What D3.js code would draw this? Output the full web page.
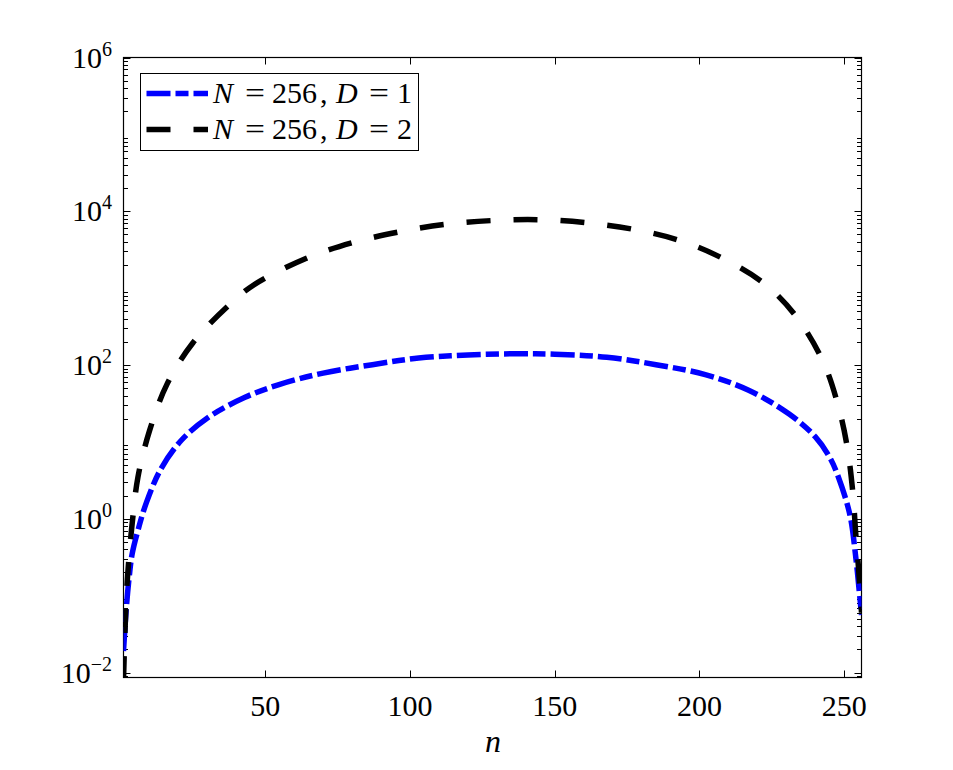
<!DOCTYPE html>
<html>
<head>
<meta charset="utf-8">
<script src="https://cdn.jsdelivr.net/npm/d3@7"></script>
<style>
  html, body { margin: 0; padding: 0; background: #fff; }
  svg { display: block; }
</style>
</head>
<body>
<svg id="chart" width="953" height="770"></svg>
<script>
// ---- data ----
const nBlue = [1, 2, 3, 4, 6, 9, 14, 21, 30, 43, 55, 70, 87, 103, 120, 137, 150, 168, 185, 202, 217, 231, 240, 245, 248, 252, 254, 255, 256];
const valBlue = [0.019, 0.071, 0.18, 0.35, 0.71, 1.66, 4.5, 10.5, 20.5, 38, 56, 78.5, 101, 123, 135, 140, 138, 126, 101, 75, 47, 23, 11.7, 6.3, 3.5, 1.12, 0.32, 0.14, 0.056];
const nBlack = [1, 2, 3, 4, 6, 10, 16, 25, 38, 46, 64, 80, 96, 112, 129, 145, 161, 178, 194, 209, 223, 234, 243, 248, 251, 253, 254, 255, 256];
const valBlack = [0.008, 0.1, 0.35, 0.87, 3.5, 14, 56, 195, 630, 1100, 2430, 3890, 5370, 6760, 7590, 7760, 7080, 5750, 4070, 2340, 1100, 400, 105, 29, 8.9, 2.2, 0.65, 0.22, 0.06];
const legendLabels = ["N = 256, D = 1", "N = 256, D = 2"];
const xTicks = [50, 100, 150, 200, 250];
const yTickExps = [-2, 0, 2, 4, 6];

const FONT = "'Liberation Serif', 'Times New Roman', Times, serif";

// ---- layout ----
const svg = d3.select("#chart");
const L = 123.5, R = 861.5, T = 57.5, B = 677.5;

const x = d3.scaleLinear().domain([1, 256]).range([L, R]);
const y = d3.scaleLog().domain([Math.pow(10, -2.065), 1e6]).range([B, T]);

svg.append("rect").attr("x", 0).attr("y", 0).attr("width", 953).attr("height", 770).attr("fill", "#fff");

svg.append("defs").append("clipPath").attr("id", "clip")
  .append("rect").attr("x", L).attr("y", T).attr("width", R - L).attr("height", B - T);

// ---- axes / ticks ----
const gAx = svg.append("g").attr("font-family", FONT);
const majorLen = 7, minorLen = 4.5;

xTicks.forEach(t => {
  const px = Math.round(x(t)) + 0.5;
  gAx.append("line").attr("x1", px).attr("x2", px).attr("y1", B).attr("y2", B - majorLen).attr("stroke", "#000").attr("stroke-width", 1);
  gAx.append("line").attr("x1", px).attr("x2", px).attr("y1", T).attr("y2", T + majorLen).attr("stroke", "#000").attr("stroke-width", 1);
  gAx.append("text").attr("x", x(t)).attr("y", 716).attr("text-anchor", "middle")
    .attr("font-size", 30).text(t);
});

yTickExps.forEach(e => {
  const py = Math.round(y(Math.pow(10, e))) + 0.5;
  gAx.append("line").attr("x1", L).attr("x2", L + majorLen).attr("y1", py).attr("y2", py).attr("stroke", "#000").attr("stroke-width", 1);
  gAx.append("line").attr("x1", R).attr("x2", R - majorLen).attr("y1", py).attr("y2", py).attr("stroke", "#000").attr("stroke-width", 1);
  const tx = gAx.append("text").attr("x", 112).attr("y", py + 9).attr("text-anchor", "end").attr("font-size", 30);
  tx.append("tspan").text("10");
  tx.append("tspan").attr("dy", -12).attr("font-size", 20).text(e < 0 ? "\u2212" + Math.abs(e) : String(e));
});

const [ylo, yhi] = y.domain();
for (let e = -3; e < 6; e++) {
  for (let k = 2; k <= 9; k++) {
    const v = k * Math.pow(10, e);
    if (v < ylo || v > yhi) continue;
    const py = Math.round(y(v)) + 0.5;
    gAx.append("line").attr("x1", L).attr("x2", L + minorLen).attr("y1", py).attr("y2", py).attr("stroke", "#000").attr("stroke-width", 1);
    gAx.append("line").attr("x1", R).attr("x2", R - minorLen).attr("y1", py).attr("y2", py).attr("stroke", "#000").attr("stroke-width", 1);
  }
}

gAx.append("rect").attr("x", L).attr("y", T).attr("width", R - L).attr("height", B - T)
  .attr("fill", "none").attr("stroke", "#000").attr("stroke-width", 1.2);

// ---- lines ----
const line = d3.line().x(d => x(d[0])).y(d => y(d[1])).curve(d3.curveCatmullRom.alpha(0.5));
const blueData = nBlue.map((n, i) => [n, valBlue[i]]);
const blackData = nBlack.map((n, i) => [n, valBlack[i]]);

const gLines = svg.append("g").attr("clip-path", "url(#clip)");
gLines.append("path").datum(blueData).attr("d", line)
  .attr("fill", "none").attr("stroke", "#0000ff").attr("stroke-width", 5.5)
  .attr("stroke-dasharray", "24,5,13,5").attr("stroke-linecap", "butt").attr("stroke-linejoin", "round");
gLines.append("path").datum(blackData).attr("d", line)
  .attr("fill", "none").attr("stroke", "#000").attr("stroke-width", 5.5)
  .attr("stroke-dasharray", "24,23").attr("stroke-linecap", "butt").attr("stroke-linejoin", "round");

// ---- legend ----
const gLeg = svg.append("g").attr("font-family", FONT);
gLeg.append("rect").attr("x", 140.5).attr("y", 73.5).attr("width", 278).attr("height", 77)
  .attr("fill", "#fff").attr("stroke", "#000").attr("stroke-width", 1);
const legStyles = [
  { color: "#0000ff", dash: "24,5,13,5" },
  { color: "#000", dash: "24,23" }
];
const rowsY = [93.5, 129.5];
const pieceX = [213, 245, 272, 320, 336, 369, 397];
legendLabels.forEach((lab, i) => {
  gLeg.append("line").attr("x1", 146.5).attr("x2", 208).attr("y1", rowsY[i]).attr("y2", rowsY[i])
    .attr("stroke", legStyles[i].color).attr("stroke-width", 5.5).attr("stroke-dasharray", legStyles[i].dash);
  const p = lab.match(/^(N) (=) (256)(,) (D) (=) (\d)$/).slice(1);
  const t = gLeg.append("text").attr("y", rowsY[i] + 9.5).attr("font-size", 30);
  p.forEach((s, k) => {
    const ts = t.append("tspan").attr("x", pieceX[k]).text(s);
    if (s === "N" || s === "D") ts.attr("font-style", "italic");
    if (s === "=") ts.attr("textLength", 20).attr("lengthAdjust", "spacingAndGlyphs");
  });
});

// ---- axis label ----
svg.append("text").attr("x", 493).attr("y", 752).attr("text-anchor", "middle")
  .attr("font-family", FONT).attr("font-size", 32).attr("font-style", "italic").text("n");
</script>
</body>
</html>
